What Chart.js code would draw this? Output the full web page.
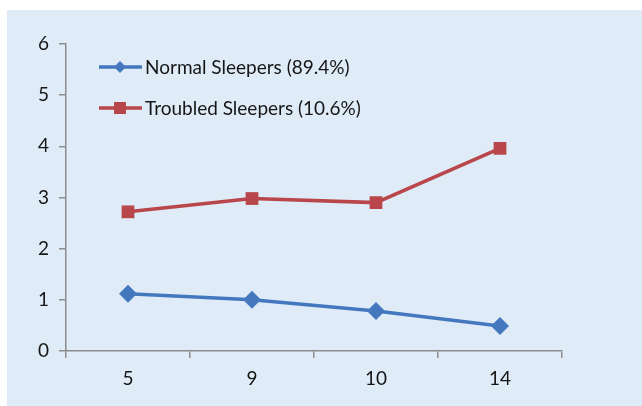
<!DOCTYPE html>
<html>
<head>
<meta charset="utf-8">
<script src="https://cdn.jsdelivr.net/npm/chart.js@4/dist/chart.umd.min.js"></script>
<style>
  html, body { margin: 0; padding: 0; background: #ffffff; }
  #bg { position: absolute; left: 7px; top: 10px; width: 635px; height: 396px; background: #dfebf7; }
  #wrap { position: absolute; left: 0; top: 0; width: 642px; height: 406px; }
</style>
</head>
<body>
<div id="bg"></div>
<div id="wrap"><canvas id="c" width="642" height="406"></canvas></div>
<script>
/* data */
var categories = ['5', '9', '10', '14'];
var normalVals = [1.12, 1.0, 0.78, 0.49];
var troubledVals = [2.72, 2.98, 2.90, 3.96];
var seriesNames = ['Normal Sleepers (89.4%)', 'Troubled Sleepers (10.6%)'];
var yTicks = [0, 1, 2, 3, 4, 5, 6];

var FONT = 'Lato, "Open Sans", sans-serif';
var BLUE = '#4478be';
var RED = '#b8464a';
var AXIS = '#8c8c8c';
var TEXT = '#161616';

/* legend drawn inside the plot: short line + marker + text */
var insideLegend = {
  id: 'insideLegend',
  afterDraw: function(chart) {
    var ctx = chart.ctx;
    var rows = [67, 108];
    chart.data.datasets.forEach(function(ds, i) {
      var y = rows[i];
      ctx.save();
      ctx.strokeStyle = ds.borderColor;
      ctx.lineWidth = ds.borderWidth;
      ctx.beginPath();
      ctx.moveTo(99, y);
      ctx.lineTo(142, y);
      ctx.stroke();
      ctx.fillStyle = ds.backgroundColor;
      if (ds.pointStyle === 'rectRot') {
        ctx.beginPath();
        ctx.moveTo(120, y - 6);
        ctx.lineTo(126, y);
        ctx.lineTo(120, y + 6);
        ctx.lineTo(114, y);
        ctx.closePath();
        ctx.fill();
      } else {
        ctx.fillRect(114, y - 6, 12, 12);
      }
      ctx.fillStyle = TEXT;
      ctx.font = '19px ' + FONT;
      ctx.textAlign = 'left';
      ctx.textBaseline = 'middle';
      ctx.fillText(ds.label, 145, y + 1);
      ctx.restore();
    });
  }
};

new Chart(document.getElementById('c'), {
  type: 'line',
  data: {
    labels: categories,
    datasets: [
      {
        label: seriesNames[0],
        data: normalVals,
        borderColor: BLUE,
        backgroundColor: BLUE,
        borderWidth: 3.5,
        pointStyle: 'rectRot',
        pointRadius: 9,
        pointBorderWidth: 0,
        tension: 0
      },
      {
        label: seriesNames[1],
        data: troubledVals,
        borderColor: RED,
        backgroundColor: RED,
        borderWidth: 3.5,
        pointStyle: 'rect',
        pointRadius: 9,
        pointBorderWidth: 0,
        tension: 0
      }
    ]
  },
  options: {
    responsive: false,
    animation: false,
    layout: { padding: { top: 44, right: 80, left: 0, bottom: 0 } },
    plugins: {
      legend: { display: false },
      tooltip: { enabled: false }
    },
    scales: {
      x: {
        type: 'category',
        offset: true,
        afterFit: function(s) { s.height = 55; },
        border: { color: AXIS, width: 1.5 },
        grid: { offset: true, drawOnChartArea: false, color: AXIS, tickLength: 7, lineWidth: 1.5 },
        ticks: { color: TEXT, font: { family: FONT, size: 19 }, padding: 9 }
      },
      y: {
        min: 0,
        max: 6,
        afterFit: function(s) { s.width = 66; },
        afterBuildTicks: function(s) { s.ticks = yTicks.map(function(v) { return { value: v }; }); },
        border: { color: AXIS, width: 1.5 },
        grid: { drawOnChartArea: false, color: AXIS, tickLength: 7, lineWidth: 1.5 },
        ticks: { color: TEXT, font: { family: FONT, size: 19 }, padding: 10 }
      }
    }
  },
  plugins: [insideLegend]
});
</script>
</body>
</html>
